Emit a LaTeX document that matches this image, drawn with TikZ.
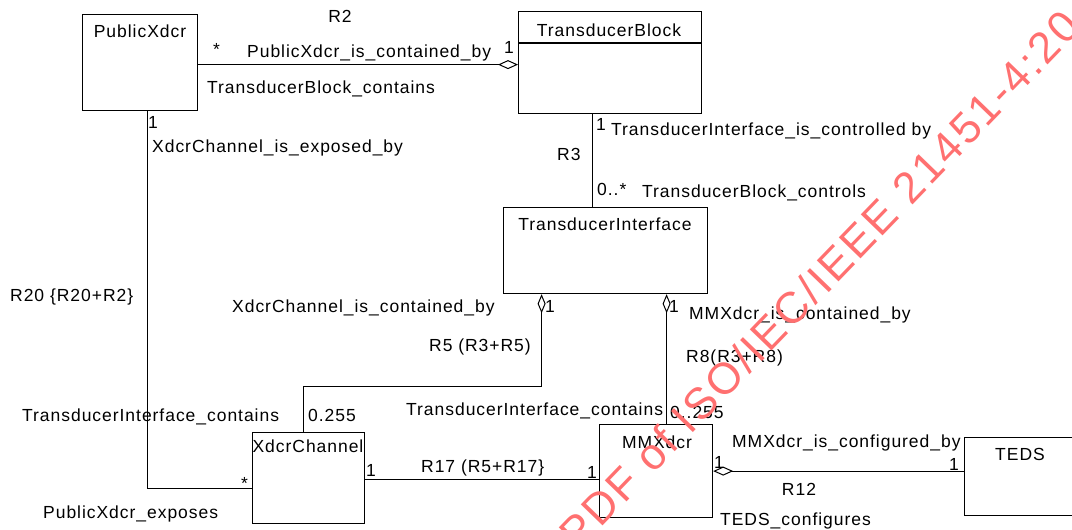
\documentclass[tikz,border=0pt]{standalone}
\usepackage{fontspec}
\setmainfont[LetterSpace=5.5]{Liberation Sans}
\newfontfamily\wmfont[LetterSpace=6]{Liberation Sans}
\usetikzlibrary{arrows.meta,calc}
\newcommand\lblfont{\fontsize{17.5}{21}\selectfont}
\definecolor{wmred}{RGB}{255,112,112}

\begin{document}
\begin{tikzpicture}[x=1pt,y=-1pt,
  box/.style={draw, line width=1.2pt, inner sep=0pt, anchor=north west},
  link/.style={draw, line width=1.2pt},
  agg/.style={link, -{Diamond[open, length=20pt, width=9pt, line width=1pt]}},
  aggv/.style={link, -{Diamond[open, length=19pt, width=8pt, line width=1pt]}},
  lbl/.style={font=\lblfont, inner sep=0pt, anchor=base west},
  title/.style={font=\lblfont, inner sep=0pt, anchor=base},
  wm/.style={font=\wmfont\fontsize{44}{44}\selectfont, text=wmred, inner sep=0pt}]

\useasboundingbox (0,0) rectangle (1072,530);
\begin{scope}
\clip (0,0) rectangle (1072,530);

% classes
\node[box, minimum width=115pt, minimum height=96pt]  (pub)  at (82,14)   {};
\node[box, minimum width=183pt, minimum height=102pt] (tb)   at (518,11)  {};
\node[box, minimum width=204pt, minimum height=86pt]  (ti)   at (503,207) {};
\node[box, minimum width=112pt, minimum height=91pt]  (xc)   at (252,432) {};
\node[box, minimum width=113pt, minimum height=93pt]  (mm)   at (599,424) {};
\node[box, minimum width=112pt, minimum height=78pt]  (teds) at (964,437) {};
\draw[line width=1.2pt] ($(tb.north west)+(0,32)$) -- ($(tb.north east)+(0,32)$);

\node[title] (tpub)  at (140,37)  {PublicXdcr};
\node[title] (ttb)   at (609,36)  {TransducerBlock};
\node[title] (tti)   at (605,230) {TransducerInterface};
\node[title] (txc)   at (308,452) {XdcrChannel};
\node[title] (tmm)   at (657,448) {MMXdcr};
\node[title] (tteds) at (1020,460) {TEDS};

% R2
\coordinate (r2a) at ($(pub.east)+(0,2)$);
\draw[agg] (r2a) -- (r2a -| tb.west);
% R3
\coordinate (r3a) at ($(tb.south)+(-17.5,0)$);
\draw[link] (r3a) -- (r3a |- ti.north);
% R5
\coordinate (r5a) at ($(xc.north)+(-5,0)$);
\coordinate (r5b) at ($(ti.south)+(-64,0)$);
\coordinate (r5c) at ($(r5b)+(0,92)$);
\draw[aggv] (r5a) |- (r5c) -- (r5b);
% R8
\coordinate (r8a) at ($(ti.south)+(61,0)$);
\draw[aggv] (r8a |- mm.north) -- (r8a);
% R20
\coordinate (r20a) at ($(pub.south)+(7.5,0)$);
\coordinate (r20b) at ($(xc.west)+(0,10.5)$);
\draw[link] (r20a) |- (r20b);
% R17
\coordinate (r17a) at ($(xc.east)+(0,1.5)$);
\draw[link] (r17a) -- (r17a -| mm.west);
% R12
\draw[agg] (mm.east -| teds.west) -- (mm.east);

% association labels
\node[title] (l1)  at (340,22)  {R2};
\node[lbl]   (l2)  at (213,55)  {*};
\node[lbl]   (l3)  at (504,53)  {1};
\node[lbl]   (l4)  at (247,57)  {PublicXdcr\_is\_contained\_by};
\node[lbl]   (l5)  at (207,93)  {TransducerBlock\_contains};
\node[lbl]   (l6)  at (148,128) {1};
\node[lbl]   (l7)  at (152,152) {XdcrChannel\_is\_exposed\_by};
\node[lbl]   (l8)  at (557,160) {R3};
\node[lbl]   (l9)  at (596,130) {1};
\node[lbl]   (l10) at (611,135) {TransducerInterface\_is\_controlled by};
\node[lbl]   (l11) at (597,195) {0..*};
\node[lbl]   (l12) at (642,197) {TransducerBlock\_controls};
\node[lbl]   (l13) at (232,312) {XdcrChannel\_is\_contained\_by};
\node[lbl]   (l14) at (545,312) {1};
\node[lbl]   (l15) at (669,312) {1};
\node[lbl]   (l16) at (689,319) {MMXdcr\_is\_contained\_by};
\node[lbl]   (l17) at (429,351) {R5 (R3+R5)};
\node[lbl]   (l18) at (686,362) {R8(R3+R8)};
\node[lbl]   (l19) at (308,421) {0.255};
\node[lbl]   (l20) at (406,415) {TransducerInterface\_contains};
\node[lbl]   (l21) at (22,421)  {TransducerInterface\_contains};
\node[lbl]   (l22) at (10,301)  {R20 \{R20+R2\}};
\node[lbl]   (l23) at (241,489) {*};
\node[lbl]   (l24) at (43,518)  {PublicXdcr\_exposes};
\node[lbl]   (l25) at (366,476) {1};
\node[lbl]   (l26) at (421,472) {R17 (R5+R17\}};
\node[lbl]   (l27) at (587,478) {1};
\node[lbl]   (l28) at (670,418) {0..255};
\node[lbl]   (l29) at (714,468) {1};
\node[lbl]   (l30) at (732,447) {MMXdcr\_is\_configured\_by};
\node[title] (l31) at (799,495) {R12};
\node[lbl]   (l32) at (720,525) {TEDS\_configures};
\node[lbl]   (l33) at (949,470) {1};

% watermark
\node[wm, rotate=46, anchor=base west] (wmark) at (578,552) {PDF of ISO/IEC/IEEE 21451-4:20};
\end{scope}
\end{tikzpicture}
\end{document}
